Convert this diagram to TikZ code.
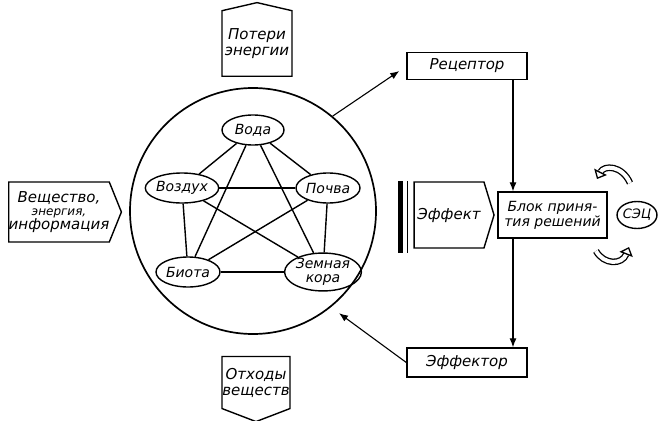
\documentclass[tikz,border=0pt]{standalone}
\usepackage{fontspec}
\setmainfont{DejaVu Sans}
\usetikzlibrary{shapes.geometric,shapes.symbols,arrows.meta,positioning}

\begin{document}
\begin{tikzpicture}[x=1pt, y=-1pt,
    every node/.style={font=\itshape\fontsize{15}{16}\selectfont},
    comp/.style={ellipse, draw, line width=1.4pt, inner sep=0pt, minimum width=62pt, minimum height=30pt, align=center,
                 font=\itshape\fontsize{14}{14}\selectfont},
    box/.style={rectangle, draw, line width=1.4pt, minimum width=120pt, minimum height=27pt, align=center},
    flowbox/.style={signal, draw, line width=1.4pt, align=center, inner sep=0pt},
    link/.style={line width=1.4pt},
    arrow/.style={-{Latex[length=9pt,width=7pt]}, line width=1.1pt},
    cycarrow/.style={double, double distance=4pt, line width=1.3pt, -{Triangle[open,length=8pt,width=14pt]}}
]
    \useasboundingbox (0,0) rectangle (666,420);

    % Environment and its components
    \node[circle, draw, line width=1.7pt, minimum size=246pt] (env) at (253,211) {};
    \node[comp] (voda) at (253,130) {Вода};
    \node[comp, minimum width=68pt] (vozduh) at (182,188) {Воздух};
    \node[comp, minimum width=64pt] (pochva) at (328,188) {Почва};
    \node[comp, minimum width=64pt] (biota) at (188,272) {Биота};
    \node[comp, minimum width=70pt, minimum height=34pt, font=\itshape\fontsize{14}{13.5}\selectfont] (kora) at (323,272) {Земная\\кора};

    % Links between components
    \foreach \a/\b in {voda/vozduh, voda/pochva, voda/biota, voda/kora,
                       vozduh/pochva, vozduh/biota, vozduh/kora,
                       pochva/biota, pochva/kora, biota/kora}
        \draw[link] (\a) -- (\b);

    % Flows in and out
    \node[flowbox, signal to=east, signal pointer angle=136, minimum width=105pt, minimum height=60pt] (input) at (59,212)
        {Вещество,\\[-3pt]{\fontsize{12}{13}\selectfont энергия,}\\[-2pt]информация};
    \node[flowbox, signal to=north, signal pointer angle=154, minimum width=70pt, minimum height=73pt] (loss) at (257,43.5)
        {Потери\\энергии};
    \node[flowbox, signal to=south, signal pointer angle=138, minimum width=68pt, minimum height=65pt] (waste) at (256,382.5)
        {Отходы\\веществ};
    \node[flowbox, signal to=east, signal pointer angle=146, minimum width=80pt, minimum height=66pt] (effect) at (449,215)
        {Эффект};
    \fill ([xshift=-15pt]effect.north west) rectangle ([xshift=-10pt,yshift=-4pt]effect.south west);
    \draw[line width=1.4pt] ([xshift=-6pt]effect.north west) -- ([xshift=-6pt,yshift=-4pt]effect.south west);

    % Control loop
    \node[box] (receptor) at (467,66) {Рецептор};
    \node[box, minimum height=29pt] (effector) at (467,362.5) {Эффектор};
    \node[box, minimum width=109pt, minimum height=46pt, font=\itshape\fontsize{14}{15}\selectfont] (block) at (552.5,215) {Блок приня-\\тия решений};
    \node[ellipse, draw, line width=1.4pt, inner sep=0pt, minimum width=34pt, minimum height=27pt, font=\itshape\fontsize{13}{13}\selectfont] (sec) at (637,215) {СЭЦ};

    \draw[arrow] (env.50) -- ([xshift=-7pt,yshift=-5pt]receptor.west);
    \draw[arrow] ([xshift=46pt]receptor.south) -- ([xshift=46pt]receptor.south |- block.north);
    \draw[arrow] ([xshift=46pt]receptor.south |- block.south) -- ([xshift=46pt]effector.north);
    \draw[arrow, shorten >=10pt] (effector.west) -- (env.-51);

    % Exchange with the centre
    \coordinate (cycT) at (613,168);
    \coordinate (cycB) at (613,262);
    \draw[cycarrow] ([xshift=17pt,yshift=-15pt]cycT) .. controls ([xshift=9pt,yshift=3pt]cycT) and ([xshift=-9pt,yshift=3pt]cycT) .. ([xshift=-16pt,yshift=-11pt]cycT);
    \draw[cycarrow] ([xshift=-17pt,yshift=11pt]cycB) .. controls ([xshift=-9pt,yshift=-3pt]cycB) and ([xshift=9pt,yshift=-3pt]cycB) .. ([xshift=16pt,yshift=15pt]cycB);
\end{tikzpicture}
\end{document}
